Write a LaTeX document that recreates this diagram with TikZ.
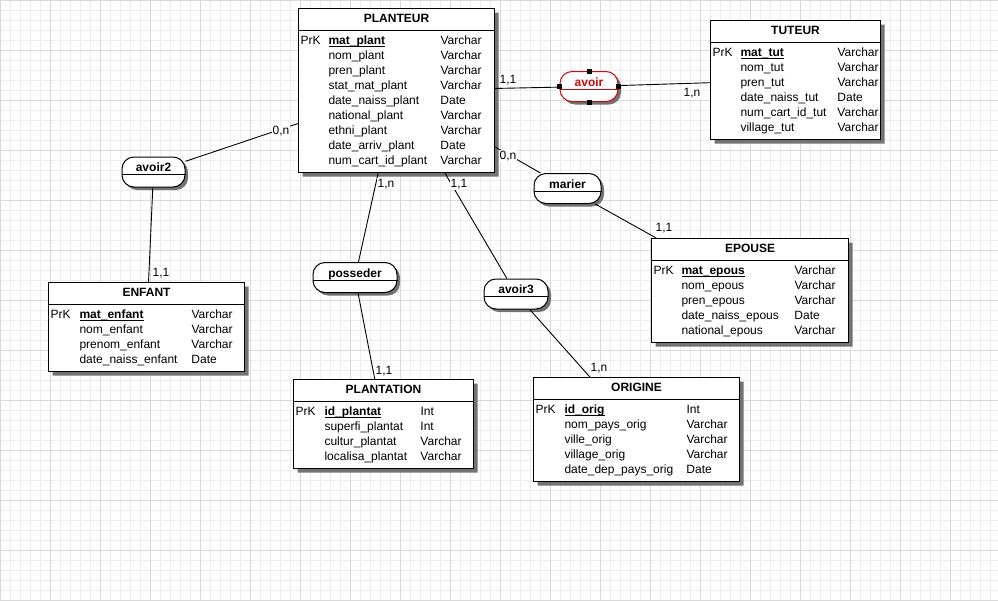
\documentclass[tikz,border=0pt]{standalone}
\usepackage{fontspec}
\setmainfont{Liberation Sans}
\usetikzlibrary{shapes.multipart,shadows}
\definecolor{rougesel}{RGB}{200,10,10}
\newcommand{\clep}[1]{\textbf{\underline{\smash{#1}}}}

\begin{document}
\begin{tikzpicture}[x=1pt,y=-1pt]
\tikzset{entite/.style={rectangle split,rectangle split parts=2,rectangle split part align={center,left},draw,line width=1pt,fill=white,anchor=north west,inner xsep=2pt,inner ysep=3pt,font=\fontsize{12}{15}\selectfont,drop shadow={shadow xshift=4pt,shadow yshift=-4pt,fill=black!55,opacity=1}}}
\tikzset{relation/.style={rectangle,rounded corners=12pt,draw,line width=1pt,fill=white,minimum height=30pt,inner sep=0pt,text height=9pt,text depth=10pt,font=\fontsize{12}{15}\selectfont\bfseries,drop shadow={shadow xshift=3pt,shadow yshift=-3pt,fill=black!55,opacity=1}}}
\tikzset{card/.style={fill=white,inner sep=1pt,font=\fontsize{12}{15}\selectfont}}
\tikzset{poignee/.style={rectangle,fill=black,inner sep=0pt,minimum size=5pt}}
\tikzset{lien/.style={line width=0.9pt}}
\useasboundingbox (0,0) rectangle (998,600);
\fill[white] (0,0) rectangle (998,600);
\draw[step=10pt,black!7,line width=1pt] (0,0) grid (998,600);
\draw[step=50pt,black!15,line width=1pt] (0,0) grid (998,600);
% entites
\node [entite] (planteur) at (298,8) {\strut\textbf{PLANTEUR}
\nodepart{two}\begin{tabular}{@{}p{28pt}@{}p{112pt}@{}p{52pt}@{}}
PrK & \clep{mat\_plant} & Varchar\\
 & nom\_plant & Varchar\\
 & pren\_plant & Varchar\\
 & stat\_mat\_plant & Varchar\\
 & date\_naiss\_plant & Date\\
 & national\_plant & Varchar\\
 & ethni\_plant & Varchar\\
 & date\_arriv\_plant & Date\\
 & num\_cart\_id\_plant & Varchar
\end{tabular}};
\node [entite] (tuteur) at (710,20) {\strut\textbf{TUTEUR}
\nodepart{two}\begin{tabular}{@{}p{28pt}@{}p{97pt}@{}p{41pt}@{}}
PrK & \clep{mat\_tut} & Varchar\\
 & nom\_tut & Varchar\\
 & pren\_tut & Varchar\\
 & date\_naiss\_tut & Date\\
 & num\_cart\_id\_tut & Varchar\\
 & village\_tut & Varchar
\end{tabular}};
\node [entite] (enfant) at (48,282) {\strut\textbf{ENFANT}
\nodepart{two}\begin{tabular}{@{}p{29pt}@{}p{112pt}@{}p{51pt}@{}}
PrK & \clep{mat\_enfant} & Varchar\\
 & nom\_enfant & Varchar\\
 & prenom\_enfant & Varchar\\
 & date\_naiss\_enfant & Date
\end{tabular}};
\node [entite] (plantation) at (293,379) {\strut\textbf{PLANTATION}
\nodepart{two}\begin{tabular}{@{}p{29pt}@{}p{96pt}@{}p{51pt}@{}}
PrK & \clep{id\_plantat} & Int\\
 & superfi\_plantat & Int\\
 & cultur\_plantat & Varchar\\
 & localisa\_plantat & Varchar
\end{tabular}};
\node [entite] (origine) at (533,377) {\strut\textbf{ORIGINE}
\nodepart{two}\begin{tabular}{@{}p{29pt}@{}p{122pt}@{}p{51pt}@{}}
PrK & \clep{id\_orig} & Int\\
 & nom\_pays\_orig & Varchar\\
 & ville\_orig & Varchar\\
 & village\_orig & Varchar\\
 & date\_dep\_pays\_orig & Date
\end{tabular}};
\node [entite] (epouse) at (651,238) {\strut\textbf{EPOUSE}
\nodepart{two}\begin{tabular}{@{}p{28pt}@{}p{113pt}@{}p{52pt}@{}}
PrK & \clep{mat\_epous} & Varchar\\
 & nom\_epous & Varchar\\
 & pren\_epous & Varchar\\
 & date\_naiss\_epous & Date\\
 & national\_epous & Varchar
\end{tabular}};
% associations
\node [relation,draw=rougesel,text=rougesel,minimum width=58pt] (avoir) at (589,86.5) {avoir};
\node [relation,minimum width=63pt] (avoir2) at (153.5,172) {avoir2};
\node [relation,minimum width=84pt] (posseder) at (355,277.5) {posseder};
\node [relation,minimum width=64pt] (avoir3) at (516,294) {avoir3};
\node [relation,minimum width=67pt] (marier) at (567.5,188.5) {marier};
\draw[rougesel,line width=1pt] ([yshift=-18pt]avoir.north west) -- ([yshift=-18pt]avoir.north east);
\foreach \r in {avoir2,posseder,avoir3,marier}
  \draw[line width=1pt] ([yshift=-18pt]\r.north west) -- ([yshift=-18pt]\r.north east);
% liens
\draw[lien] (planteur) to (avoir);
\draw[lien] (avoir) to (tuteur);
\draw[lien] (planteur) to (avoir2);
\draw[lien] (avoir2) to (enfant);
\draw[lien] (planteur) to (posseder);
\draw[lien] (posseder) to (plantation);
\draw[lien] (planteur) to (avoir3);
\draw[lien] (avoir3) to (origine);
\draw[lien] (planteur) to (marier);
\draw[lien] (marier) to (epouse);
\foreach \a in {north,south,east,west}
  \node [poignee] (p\a) at (avoir.\a) {};
% cardinalites
\node [card] (c1) at (508,80) {1,1};
\node [card] (c2) at (692,93) {1,n};
\node [card] (c3) at (281,131) {0,n};
\node [card] (c4) at (161,273) {1,1};
\node [card] (c5) at (386,184) {1,n};
\node [card] (c6) at (384,371) {1,1};
\node [card] (c7) at (459,184) {1,1};
\node [card] (c8) at (599,368) {1,n};
\node [card] (c9) at (508,156) {0,n};
\node [card] (c10) at (664,228) {1,1};
\end{tikzpicture}
\end{document}
